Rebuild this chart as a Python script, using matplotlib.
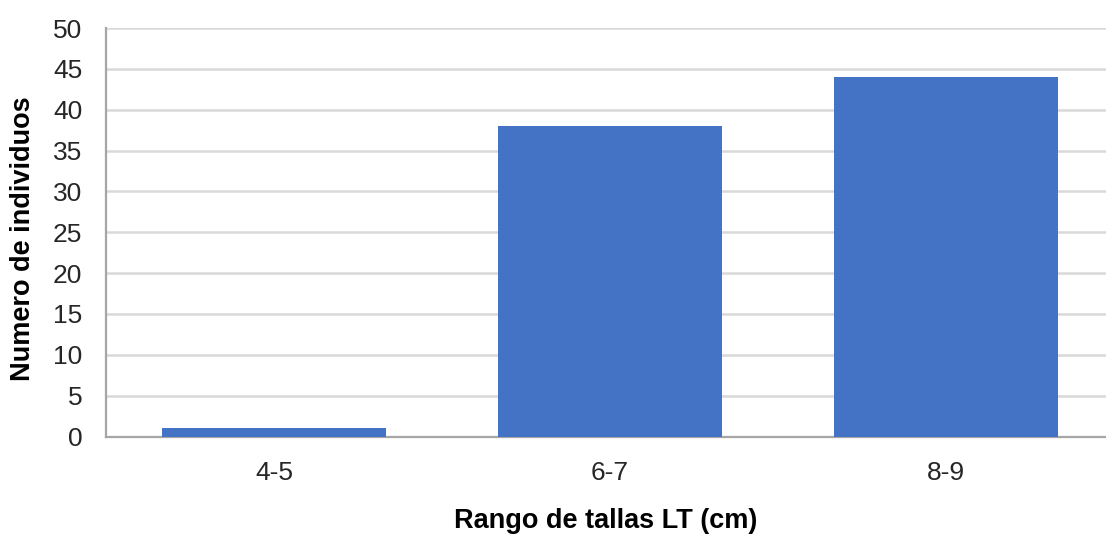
import matplotlib
matplotlib.use("Agg")
import matplotlib.pyplot as plt

plt.rcParams["font.family"] = ["Liberation Sans", "DejaVu Sans"]

categories = ["4-5", "6-7", "8-9"]
counts = [1, 38, 44]

W, H = 1106, 535
fig = plt.figure(figsize=(W / 100, H / 100), dpi=100)
ax = fig.add_axes([106 / W, (H - 436.5) / H, (1114 - 106) / W, (436.5 - 28) / H])

x = range(len(categories))
ax.bar(x, counts, width=0.665, color="#4472c4", zorder=3)

ax.set_xlim(-0.5, 2.5)
ax.set_ylim(0, 50)
ax.set_yticks(range(0, 51, 5))
ax.set_xticks(list(x))
ax.set_xticklabels(categories)

ax.grid(axis="y", color="#d9d9d9", linewidth=1.8, zorder=0)
for s in ["top", "right"]:
    ax.spines[s].set_visible(False)
for s in ["left", "bottom"]:
    ax.spines[s].set_color("#a6a6a6")
    ax.spines[s].set_linewidth(1.6)

ax.tick_params(axis="both", length=0, labelsize=19, colors="#262626")
ax.tick_params(axis="x", pad=18)
ax.tick_params(axis="y", pad=17)

# axis titles
fig.text(606 / W, 1 - 528 / H, "Rango de tallas LT (cm)", ha="center", va="baseline",
         fontsize=19.5, fontweight="bold", color="#000000")
fig.text(23 / W, 1 - 239 / H, "Numero de individuos", ha="center", va="center",
         rotation=90, fontsize=19.5, fontweight="bold", color="#000000")

plt.savefig("out.png", dpi=100, facecolor="white")
